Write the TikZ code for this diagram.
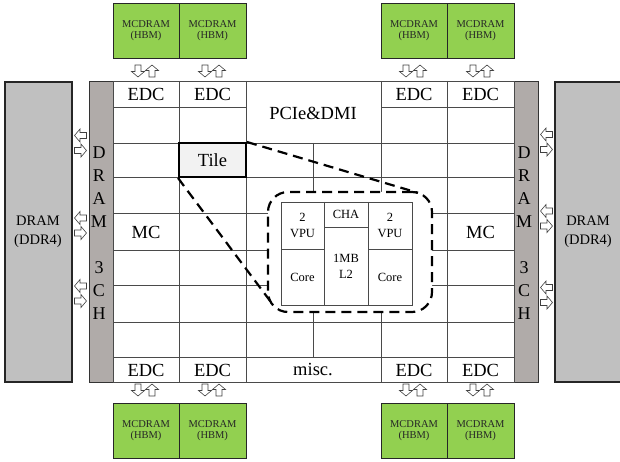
\documentclass[tikz,border=0pt]{standalone}
\usepackage{fontspec}
\setmainfont{Liberation Serif}
\definecolor{hbm}{HTML}{92D050}
\definecolor{ddr}{HTML}{C0C0C0}
\definecolor{stripc}{HTML}{B0ABA9}
\definecolor{tilefill}{HTML}{F2F2F2}
\definecolor{gridc}{HTML}{4A4A4A}
\tikzset{
  hbmbox/.style={draw=black!85, line width=0.9pt, fill=hbm, inner sep=0pt, align=center,
    font=\fontsize{10.5}{11}\selectfont, text=black!85},
  ddrbox/.style={draw=black!85, line width=1.1pt, fill=ddr, inner sep=0pt},
  ddrtext/.style={align=center, inner sep=0pt, font=\fontsize{14.5}{19}\selectfont},
  stripbox/.style={draw=black!80, line width=0.9pt, fill=stripc, inner sep=0pt},
  gridline/.style={draw=gridc, line width=0.8pt},
  lbl/.style={font=\fontsize{18.5}{22}\selectfont, inner sep=0pt},
  letter/.style={font=\fontsize{18}{20}\selectfont, inner sep=0pt},
  smalltxt/.style={font=\fontsize{12.5}{16}\selectfont, align=center, inner sep=0pt},
  callout/.style={draw=black, line width=2.2pt, dash pattern=on 10pt off 6pt},
  blkarrow/.pic={\draw[black!75, line width=0.6pt, fill=white, line join=miter]
    (-6,-3) -- (0.5,-3) -- (0.5,-6.5) -- (6,0) -- (0.5,6.5) -- (0.5,3) -- (-6,3) -- cycle;}
}
\begin{document}
\begin{tikzpicture}[x=1pt,y=-1pt]
\path[use as bounding box] (0,0) rectangle (620,462);
\clip (0,0) rectangle (620,462);

% MCDRAM boxes
\foreach \n/\cx/\w in {1/146/66, 2/212.5/67, 3/414/66, 4/480.5/67}{
  \node[hbmbox, minimum width=\w pt, minimum height=55pt] (ht\n) at (\cx,30.5) {MCDRAM\\(HBM)};
  \node[hbmbox, minimum width=\w pt, minimum height=55pt] (hb\n) at (\cx,430.5) {MCDRAM\\(HBM)};
}

% DDR4 boxes
\node[ddrbox, minimum width=67pt, minimum height=300pt] (ddrL) at (38.5,232) {};
\node[ddrtext] (ddrLt) at (38,232) {DRAM\\(DDR4)};
\node[ddrbox, minimum width=85pt, minimum height=300pt] (ddrR) at (597.5,232) {};
\node[ddrtext] (ddrRt) at (588,232) {DRAM\\(DDR4)};

% DRAM channel strips
\node[stripbox, minimum width=24pt, minimum height=301pt] (stripL) at (101,231.5) {};
\node[stripbox, minimum width=24pt, minimum height=301pt] (stripR) at (526,231.5) {};
\foreach \ch/\yy in {D/153,R/176,A/199,M/222,3/268,C/291,H/314}{
  \node[letter] (sl\yy) at (99,\yy) {\ch};
  \node[letter] (sr\yy) at (524,\yy) {\ch};
}

% mesh
\node[draw=gridc, line width=0.9pt, fill=white, minimum width=401pt, minimum height=301pt, inner sep=0pt] (mesh) at (313.5,231.5) {};
\foreach \xx in {179,246,381,447}{ \draw[gridline] (\xx,81) -- (\xx,382); }
\draw[gridline] (313,143) -- (313,357);
\draw[gridline] (113,107) -- (246,107);
\draw[gridline] (381,107) -- (514,107);
\foreach \yy in {143,177,213,250,285,322,357}{ \draw[gridline] (113,\yy) -- (514,\yy); }

% labels in mesh
\foreach \n/\cx in {1/146, 2/212.5, 3/414, 4/480.5}{
  \node[lbl] (edct\n) at (\cx,94.5) {EDC};
  \node[lbl] (edcb\n) at (\cx,370) {EDC};
}
\node[lbl] (pcie) at (313,113) {PCIe\&DMI};
\node[lbl] (misc) at (313,370) {misc.};
\node[lbl] (mcL) at (146,232) {MC};
\node[lbl] (mcR) at (480.5,232) {MC};

% zoom box
\node[callout, fill=white, rounded corners=20pt, minimum width=164pt, minimum height=120pt, inner sep=0pt] (zoombox) at (350,252) {};
\coordinate (ztr) at (418,192.8);
\coordinate (zbl) at (272,303.5);

% tile
\node[draw=black, line width=2pt, fill=tilefill, minimum width=67pt, minimum height=34pt, lbl] (tile) at (212.5,160) {Tile};
\draw[callout] (tile.north east) -- (ztr);
\draw[callout] (tile.south west) -- (zbl);

% tile detail
\node[draw=gridc, line width=0.9pt, fill=white, minimum width=131pt, minimum height=103pt, inner sep=0pt] (detail) at (346.5,253.5) {};
\draw[gridline] (324,202) -- (324,305);
\draw[gridline] (368,202) -- (368,305);
\draw[gridline] (281,249) -- (324,249);
\draw[gridline] (368,249) -- (412,249);
\draw[gridline] (324,227) -- (368,227);
\node[smalltxt] (vpuL) at (302.5,225.5) {2\\VPU};
\node[smalltxt] (vpuR) at (390,225.5) {2\\VPU};
\node[smalltxt] (cha) at (346,214.5) {CHA};
\node[smalltxt] (ltwo) at (346,266.5) {1MB\\L2};
\node[smalltxt] (coreL) at (302.5,277) {Core};
\node[smalltxt] (coreR) at (390,277) {Core};

% arrows left / right
\foreach \cy [count=\i] in {143,225.5,293.5}{
  \pic[rotate=180] (all\i) at (80.5,\cy-7.5) {blkarrow};
  \pic (alr\i) at (80.5,\cy+7.5) {blkarrow};
}
\foreach \cy [count=\i] in {142,218.5,295}{
  \pic[rotate=180] (arl\i) at (546.5,\cy-7.5) {blkarrow};
  \pic (arr\i) at (546.5,\cy+7.5) {blkarrow};
}
% arrows top / bottom
\foreach \cx [count=\i] in {145,212,413,480}{
  \pic[rotate=-90] (atd\i) at (\cx-7,71) {blkarrow};
  \pic[rotate=90] (atu\i) at (\cx+7,71) {blkarrow};
  \pic[rotate=-90] (abd\i) at (\cx-7,390) {blkarrow};
  \pic[rotate=90] (abu\i) at (\cx+7,390) {blkarrow};
}
\end{tikzpicture}
\end{document}
